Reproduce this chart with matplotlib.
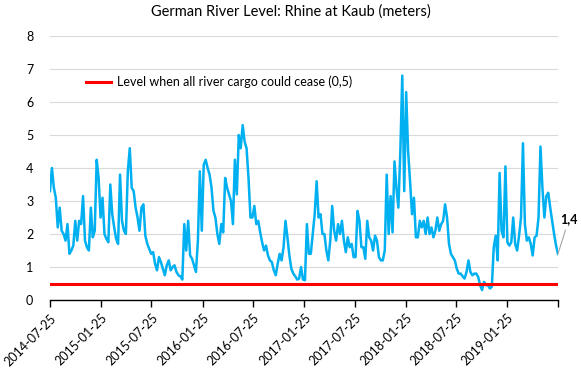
import matplotlib
matplotlib.use("Agg")
import matplotlib.pyplot as plt
import numpy as np
import pandas as pd

# weekly readings of the Kaub gauge (m)
level_y1 = [3.3, 4.0, 3.4, 3.1, 2.2, 2.8, 2.1, 2.0, 1.8, 2.3,
            1.4, 1.5, 1.65, 2.4, 1.8, 2.4, 2.3, 3.15, 1.8, 1.6,
            1.5, 2.8, 1.9, 2.1, 4.25, 3.7, 2.5, 3.1, 2.0, 1.85,
            1.75, 3.5, 2.6, 2.2, 1.85, 1.7, 3.8, 2.4, 2.1, 2.0,
            3.9, 4.6, 3.4, 3.3, 2.8, 2.5, 2.1, 2.8, 2.9, 1.95,
            1.7, 1.55, 1.4]
level_y2 = [1.45, 1.1, 0.9, 1.3, 1.15, 0.95, 0.75, 1.05, 1.2, 0.9,
            1.0, 1.05, 0.85, 0.75, 0.72, 0.62, 2.3, 1.5, 2.4, 1.35,
            1.25, 1.05, 0.85, 1.8, 3.9, 2.1, 4.1, 4.25, 4.0, 3.8,
            3.4, 2.7, 2.5, 2.0, 1.7, 2.3, 2.05, 3.7, 3.4, 3.2,
            3.0, 2.3, 4.25, 3.2, 5.0, 4.6, 5.3, 4.8, 4.6, 3.7,
            2.5, 2.5]
level_y3 = [2.85, 2.3, 2.4, 2.05, 1.75, 1.5, 1.65, 1.35, 1.2, 1.15,
            0.9, 0.75, 1.1, 1.4, 1.2, 1.6, 2.4, 1.9, 1.35, 0.95,
            0.8, 0.72, 0.62, 0.65, 1.0, 0.62, 0.6, 2.3, 1.4, 1.4,
            2.0, 2.6, 3.6, 2.5, 2.6, 2.0, 2.0, 1.5, 1.2, 1.8,
            2.85, 2.1, 1.8, 2.3, 2.0, 2.4, 1.8, 1.45, 1.9, 1.6,
            1.7, 1.3, 1.3]
level_y4 = [2.7, 2.4, 1.6, 1.6, 1.25, 2.4, 1.9, 1.8, 1.5, 1.95,
            1.8, 1.3, 1.2, 1.2, 1.5, 3.8, 2.0, 3.15, 2.05, 4.2,
            3.4, 2.8, 4.5, 6.8, 3.3, 6.3, 4.5, 3.6, 2.6, 3.1,
            1.9, 1.9, 2.4, 2.2, 2.4, 2.0, 2.5, 2.0, 2.2, 1.9,
            2.1, 2.5, 2.1, 2.3, 2.4, 2.9, 2.5, 1.7, 1.4, 1.3,
            1.2, 0.95]
level_y5 = [0.8, 0.8, 0.72, 0.65, 0.85, 1.2, 0.85, 0.75, 0.8, 0.8,
            0.7, 0.45, 0.3, 0.55, 0.45, 0.45, 0.35, 0.4, 1.6, 1.95,
            1.2, 3.85, 2.1, 1.9, 4.05, 1.75, 1.65, 1.75, 2.5, 1.7,
            1.5, 1.95, 2.5, 4.75, 2.3, 1.8, 1.9, 1.7, 1.35, 1.9,
            1.95, 2.5, 4.65, 3.4, 2.5, 3.15, 3.25, 2.8, 2.4, 2.0,
            1.65, 1.4]
levels = level_y1 + level_y2 + level_y3 + level_y4 + level_y5
dates = pd.date_range("2014-07-25", periods=len(levels), freq="7D")

cease_level = 0.5
cease_label = "Level when all river cargo could cease (0,5)"
last_label = "1,4"
title = "German River Level: Rhine at Kaub (meters)"

tick_labels = ["2014-07-25", "2015-01-25", "2015-07-25", "2016-01-25",
               "2016-07-25", "2017-01-25", "2017-07-25", "2018-01-25",
               "2018-07-25", "2019-01-25", ""]
tick_dates = pd.to_datetime(tick_labels[:-1] + ["2019-07-25"])

plt.rcParams["font.family"] = ["Lato", "DejaVu Sans"]

fig = plt.figure(figsize=(5.81, 3.72), dpi=100)
ax = fig.add_axes([0.086, 0.1935, 0.8744, 0.7097])

ax.plot(dates, levels, color="#00B0F0", lw=1.8, solid_joinstyle="round", zorder=3)
ax.axhline(cease_level, color="#FF0000", lw=2.2, zorder=4, label=cease_label)

ax.set_ylim(0, 8)
ax.set_xlim(dates[0], dates[-1])
ax.set_yticks(range(0, 9))
ax.yaxis.grid(True, color="#D9D9D9", lw=0.8)
ax.set_axisbelow(True)
for s in ["top", "right", "left"]:
    ax.spines[s].set_visible(False)
ax.spines["bottom"].set_color("black")
ax.spines["bottom"].set_linewidth(1.0)
ax.tick_params(axis="y", length=0, labelsize=9, pad=12)
ax.tick_params(axis="x", length=5, width=1, direction="out", labelsize=9)
ax.set_xticks(tick_dates)
ax.set_xticklabels(tick_labels, rotation=45, ha="right", rotation_mode="anchor")

fig.text(0.5, 1 - 12 / 372, title, fontsize=10.5, ha="center", va="center")

ax.legend(loc="center left", bbox_to_anchor=(0.07, 0.826), frameon=False,
          fontsize=9, handlelength=2.0, handletextpad=0.5,
          borderaxespad=0, borderpad=0)

ax.annotate(last_label, xy=(dates[-1], levels[-1]), xytext=(8, 21),
            textcoords="offset points", fontsize=9, fontweight="bold",
            ha="center", va="bottom", annotation_clip=False,
            arrowprops=dict(arrowstyle="-", color="#A6A6A6", lw=0.8,
                            shrinkA=2, shrinkB=0))

fig.savefig("out.png", dpi=100)
